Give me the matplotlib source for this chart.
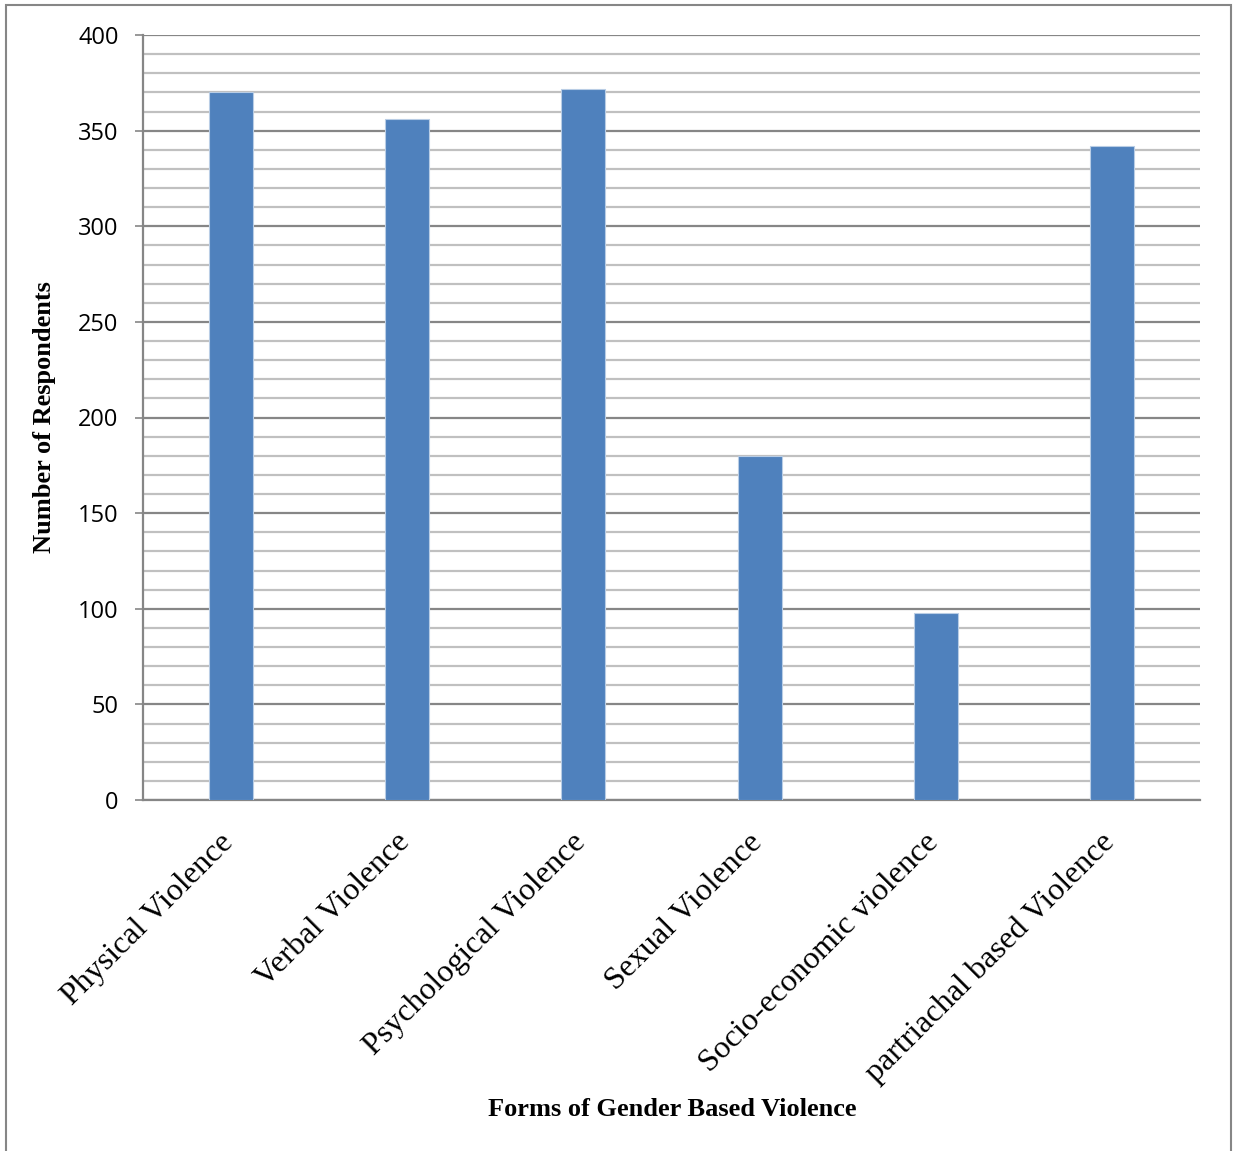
import numpy as np
import matplotlib.pyplot as plt
from matplotlib.patches import Rectangle

categories = ['Physical Violence', 'Verbal Violence', 'Psychological Violence',
              'Sexual Violence', 'Socio-economic violence', 'partriachal based Violence']
respondents = [370, 356, 372, 180, 98, 342]

W, H = 1238, 1151
fig = plt.figure(figsize=(W / 100, H / 100), dpi=100)
ax = fig.add_axes([143 / W, 1 - 800 / H, (1200 - 143) / W, (800 - 35) / H])

x = np.arange(len(categories))
ax.bar(x, respondents, width=0.25, color='#4f81bd', edgecolor='#b9cde5',
       linewidth=0.8, zorder=3)

ax.set_xlim(-0.5, len(categories) - 0.5)
ax.set_ylim(0, 400)
ax.set_yticks(np.arange(0, 401, 50))
ax.set_yticks(np.arange(0, 401, 10), minor=True)
ax.grid(which='minor', axis='y', color='#c0c0c0', linewidth=1.6, zorder=0)
ax.grid(which='major', axis='y', color='#868686', linewidth=1.6, zorder=1)
ax.tick_params(axis='y', which='major', length=6, width=1.2, color='#868686',
               labelsize=17, pad=11.5)
ax.tick_params(axis='y', which='minor', length=0)
ax.tick_params(axis='x', length=0)
for lab in ax.get_yticklabels():
    lab.set_family('Open Sans')

for s in ['top', 'right']:
    ax.spines[s].set_visible(False)
ax.spines['left'].set_color('#868686')
ax.spines['bottom'].set_color('#868686')
ax.spines['left'].set_linewidth(1.6)
ax.spines['bottom'].set_linewidth(1.6)

ax.set_xticks(x)
ax.set_xticklabels([])
for xi, name in zip(x, categories):
    ax.annotate(name, xy=(xi, 0), xycoords='data', xytext=(-2, -38),
                textcoords='offset pixels', rotation=45, ha='right', va='center',
                rotation_mode='anchor', fontsize=23, family='Liberation Serif')

ax.set_ylabel('Number of Respondents', fontsize=19, fontweight='bold',
              family='Liberation Serif')
ax.yaxis.set_label_coords(-(143 - 56) / (1200 - 143), 0.5)
fig.text(672 / W, 1 - 1110 / H, 'Forms of Gender Based Violence', ha='center',
         va='center', fontsize=19, fontweight='bold', family='Liberation Serif')

fig.patches.append(Rectangle((6 / W, -0.05), (1231 - 6) / W, 1.05 - 5 / H,
                             transform=fig.transFigure, fill=False,
                             edgecolor='#868686', linewidth=1.5))

fig.savefig('out.png', dpi=100)
